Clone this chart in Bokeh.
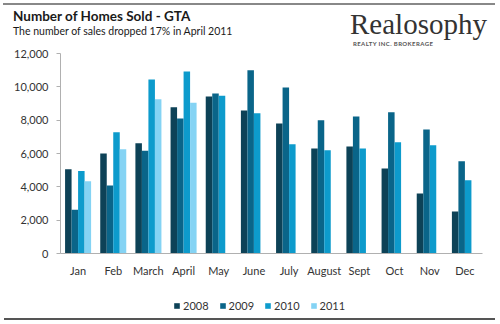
from bokeh.plotting import figure
from bokeh.layouts import column
from bokeh.models import (FactorRange, Range1d, FixedTicker, NumeralTickFormatter,
                          Div, Legend, LegendItem)
from bokeh.transform import dodge
from bokeh.embed import file_html
from bokeh.resources import INLINE

months = ["Jan", "Feb", "March", "April", "May", "June", "July", "August",
          "Sept", "Oct", "Nov", "Dec"]
years = ["2008", "2009", "2010", "2011"]
sales_2008 = [5050, 6000, 6620, 8780, 9420, 8580, 7800, 6300, 6420, 5100, 3600, 2520]
sales_2009 = [2620, 4080, 6160, 8100, 9600, 11000, 9960, 8000, 8220, 8480, 7440, 5540]
sales_2010 = [4950, 7280, 10440, 10920, 9460, 8420, 6560, 6200, 6300, 6680, 6500, 4400]
sales_2011 = [4340, 6260, 9260, 9040]
y_ticks = [0, 2000, 4000, 6000, 8000, 10000, 12000]
colors = ["#0d4257", "#0a6589", "#0d9bcc", "#84d3f4"]

title_text = "Number of Homes Sold - GTA"
subtitle_text = "The number of sales dropped 17% in April 2011"
logo_text = "Realosophy"
logo_sub = "REALTY INC. BROKERAGE"

FONT = "Lato"
TXT = "#333333"

# ---- header (HTML text) ----
header_html = f"""
<div style="position:relative;width:500px;height:46px;margin:0;padding:0;">
  <div style="position:absolute;left:3px;top:3px;width:492px;height:1.5px;background:#888888;"></div>
  <span style="position:absolute;left:13px;top:8px;white-space:nowrap;font-family:Lato;font-weight:bold;
        font-size:13.5px;line-height:normal;color:#1a1a1a;">{title_text}</span>
  <span style="position:absolute;left:13px;top:24.5px;white-space:nowrap;font-family:Lato;
        font-size:10.5px;line-height:normal;color:#1a1a1a;">{subtitle_text}</span>
  <span style="position:absolute;left:350px;top:8px;white-space:nowrap;font-family:'Liberation Serif';
        font-size:29px;line-height:normal;color:#333333;">{logo_text}</span>
  <span style="position:absolute;left:353px;top:39.8px;white-space:nowrap;font-family:Lato;font-weight:bold;
        font-size:6px;letter-spacing:0.4px;line-height:normal;color:#555555;">{logo_sub}</span>
</div>
"""
h = Div(text=header_html, width=500, height=46, margin=0)

# ---- main chart ----
p = figure(width=500, height=250, x_range=FactorRange(factors=months, range_padding=0),
           y_range=Range1d(0, 12000), output_backend="svg", toolbar_location=None,
           min_border_left=60, min_border_right=18, min_border_top=7, min_border_bottom=43)
p.outline_line_color = None
p.xgrid.visible = False
p.ygrid.visible = False

w = 0.185
series = [sales_2008, sales_2009, sales_2010, sales_2011]
for i, (yr, vals, col) in enumerate(zip(years, series, colors)):
    off = (i - 1.5) * w
    src = dict(x=months[:len(vals)], top=vals)
    p.vbar(x=dodge("x", off, range=p.x_range), top="top", width=w, source=src,
           fill_color=col, line_color=None)

yax = p.yaxis[0]
yax.ticker = FixedTicker(ticks=y_ticks)
yax.formatter = NumeralTickFormatter(format="0,0")
yax.axis_line_color = "#b0b0b0"
yax.major_tick_line_color = "#b0b0b0"
yax.major_tick_out = 4
yax.major_tick_in = 0
yax.minor_tick_line_color = None
yax.major_label_text_font = FONT
yax.major_label_text_font_size = "11px"
yax.major_label_text_color = TXT
yax.major_label_standoff = 8

xax = p.xaxis[0]
xax.axis_line_color = "#b0b0b0"
xax.major_tick_line_color = None
xax.major_tick_out = 0
xax.major_tick_in = 0
xax.minor_tick_line_color = None
xax.major_label_text_font = FONT
xax.major_label_text_font_size = "11px"
xax.major_label_text_color = TXT
xax.major_label_standoff = 10

# ---- footer with legend ----
f = figure(width=500, height=22, x_range=Range1d(0, 500), y_range=Range1d(22, 0),
           output_backend="svg", toolbar_location=None, min_border=0,
           x_axis_location=None, y_axis_location=None)
f.grid.visible = False
f.outline_line_color = None
# zero-size swatch renderers (draw nothing; only provide legend swatches)
leg_r = [f.vbar(x=[0], top=[0], bottom=[0], width=0, fill_color=c, line_color=None)
         for c in colors]
legend = Legend(items=[LegendItem(label=yr, renderers=[r]) for yr, r in zip(years, leg_r)],
                orientation="horizontal", location=(113, 6), glyph_width=7, glyph_height=7,
                label_text_font=FONT, label_text_font_size="11px", label_text_color=TXT,
                spacing=10, label_standoff=3, border_line_color=None, margin=0, padding=0,
                background_fill_alpha=0, label_height=14)
f.add_layout(legend, "center")

bottom_rule = Div(text="", width=491, height=2, margin=(0, 0, 0, 4),
                  styles={"background-color": "#555555"})

layout = column(h, p, f, bottom_rule, spacing=0)
open("out.html", "w").write(file_html(layout, INLINE))
